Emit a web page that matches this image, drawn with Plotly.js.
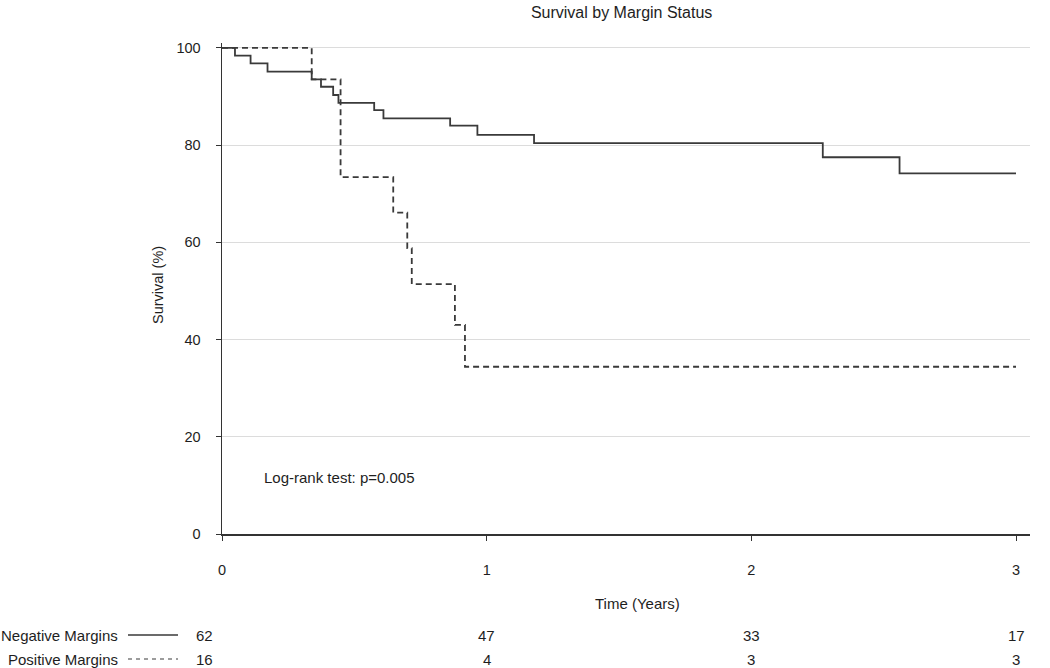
<!DOCTYPE html>
<html>
<head>
<meta charset="utf-8">
<script src="https://cdn.plot.ly/plotly-3.0.1.min.js"></script>
<style>html,body{margin:0;padding:0;background:#fff;}#chart{width:1050px;height:668px;}</style>
</head>
<body>
<div id="chart"></div>
<script>
// Kaplan-Meier step data
const negTime = [0, 0.049, 0.108, 0.172, 0.339, 0.374, 0.42, 0.44, 0.575, 0.61, 0.862, 0.965, 1.179, 2.27, 2.56, 3.0];
const negSurv = [100, 98.4, 96.8, 95.1, 93.5, 92.0, 90.3, 88.7, 87.2, 85.5, 84.0, 82.1, 80.4, 77.5, 74.2, 74.2];
const posTime = [0, 0.339, 0.448, 0.647, 0.70, 0.717, 0.88, 0.918, 3.0];
const posSurv = [100, 93.5, 73.4, 66.1, 58.8, 51.4, 43.0, 34.4, 34.4];

const riskTimes = [0, 1, 2, 3];
const negAtRisk = [62, 47, 33, 17];
const posAtRisk = [16, 4, 3, 3];
const groupNames = ["Negative Margins", "Positive Margins"];
const xTicks = [0, 1, 2, 3];
const yTicks = [0, 20, 40, 60, 80, 100];

const lineColor = "#3a3a3a";
const fontFam = "Liberation Sans, Arial, sans-serif";
const txt = "#1e1e1e";

const traces = [
  {x: negTime, y: negSurv, mode: "lines", line: {shape: "hv", color: lineColor, width: 1.8}, name: groupNames[0], showlegend: false, hoverinfo: "skip"},
  {x: posTime, y: posSurv, mode: "lines", line: {shape: "hv", color: lineColor, width: 1.8, dash: "6px,4px"}, name: groupNames[1], showlegend: false, hoverinfo: "skip"}
];

// geometry helpers (paper coords)
const L = 222, R = 1030, T = 43, B = 534;
const px = v => (v - L) / (R - L);
const py = v => (B - v) / (B - T);
const rowY = [py(635), py(659)];

const annotations = [
  {text: "Log-rank test: p=0.005", x: px(262), y: py(477), xref: "paper", yref: "paper", xanchor: "left", yanchor: "middle", showarrow: false, font: {family: fontFam, size: 15, color: txt}},
  {text: "Time (Years)", x: px(637), y: py(603), xref: "paper", yref: "paper", xanchor: "center", yanchor: "middle", showarrow: false, font: {family: fontFam, size: 15, color: txt}},
  {text: "Survival (%)", x: px(158), y: py(285), xref: "paper", yref: "paper", xanchor: "center", yanchor: "middle", textangle: -90, showarrow: false, font: {family: fontFam, size: 14.5, color: txt}}
];
const riskRows = [negAtRisk, posAtRisk];
riskRows.forEach((row, r) => {
  annotations.push({text: groupNames[r], x: px(120), y: rowY[r], xref: "paper", yref: "paper", xanchor: "right", yanchor: "middle", showarrow: false, font: {family: fontFam, size: 15, color: txt}});
  row.forEach((n, i) => {
    annotations.push({text: String(n), x: riskTimes[i], y: rowY[r], xref: "x", yref: "paper", xanchor: "center", yanchor: "middle", xshift: i === 0 ? -18 : 0, showarrow: false, font: {family: fontFam, size: 15, color: txt}});
  });
});

const shapes = [
  {type: "line", xref: "paper", yref: "paper", x0: px(128), x1: px(178), y0: rowY[0], y1: rowY[0], line: {color: lineColor, width: 1.5}},
  {type: "line", xref: "paper", yref: "paper", x0: px(128), x1: px(178), y0: rowY[1], y1: rowY[1], line: {color: lineColor, width: 1.2, dash: "4px,4px"}}
];

const layout = {
  width: 1050, height: 668,
  margin: {l: L, r: 1050 - R, t: T, b: 668 - B},
  paper_bgcolor: "#fff", plot_bgcolor: "#fff",
  title: {text: "Survival by Margin Status", x: 0.592, xanchor: "center", y: 0.982, yanchor: "middle", font: {family: fontFam, size: 16, color: txt}},
  xaxis: {range: [0, 3 + 14 / 264.7], tickvals: xTicks, ticktext: xTicks.map(String), showgrid: false, zeroline: false, showline: true, linecolor: "#333", linewidth: 1.5, ticks: "outside", ticklen: 5, tickcolor: "#333", ticklabelstandoff: 17, tickfont: {family: fontFam, size: 14.5, color: txt}, fixedrange: true},
  yaxis: {range: [0, 101], tickvals: yTicks, ticktext: yTicks.map(String), showgrid: true, gridcolor: "#dcdcdc", gridwidth: 1, zeroline: false, showline: true, linecolor: "#333", linewidth: 1.5, ticks: "outside", ticklen: 5, tickcolor: "#333", ticklabelstandoff: 12, tickfont: {family: fontFam, size: 14.5, color: txt}, fixedrange: true},
  annotations: annotations,
  shapes: shapes,
  showlegend: false
};

Plotly.newPlot("chart", traces, layout, {displayModeBar: false, staticPlot: true});
</script>
</body>
</html>
